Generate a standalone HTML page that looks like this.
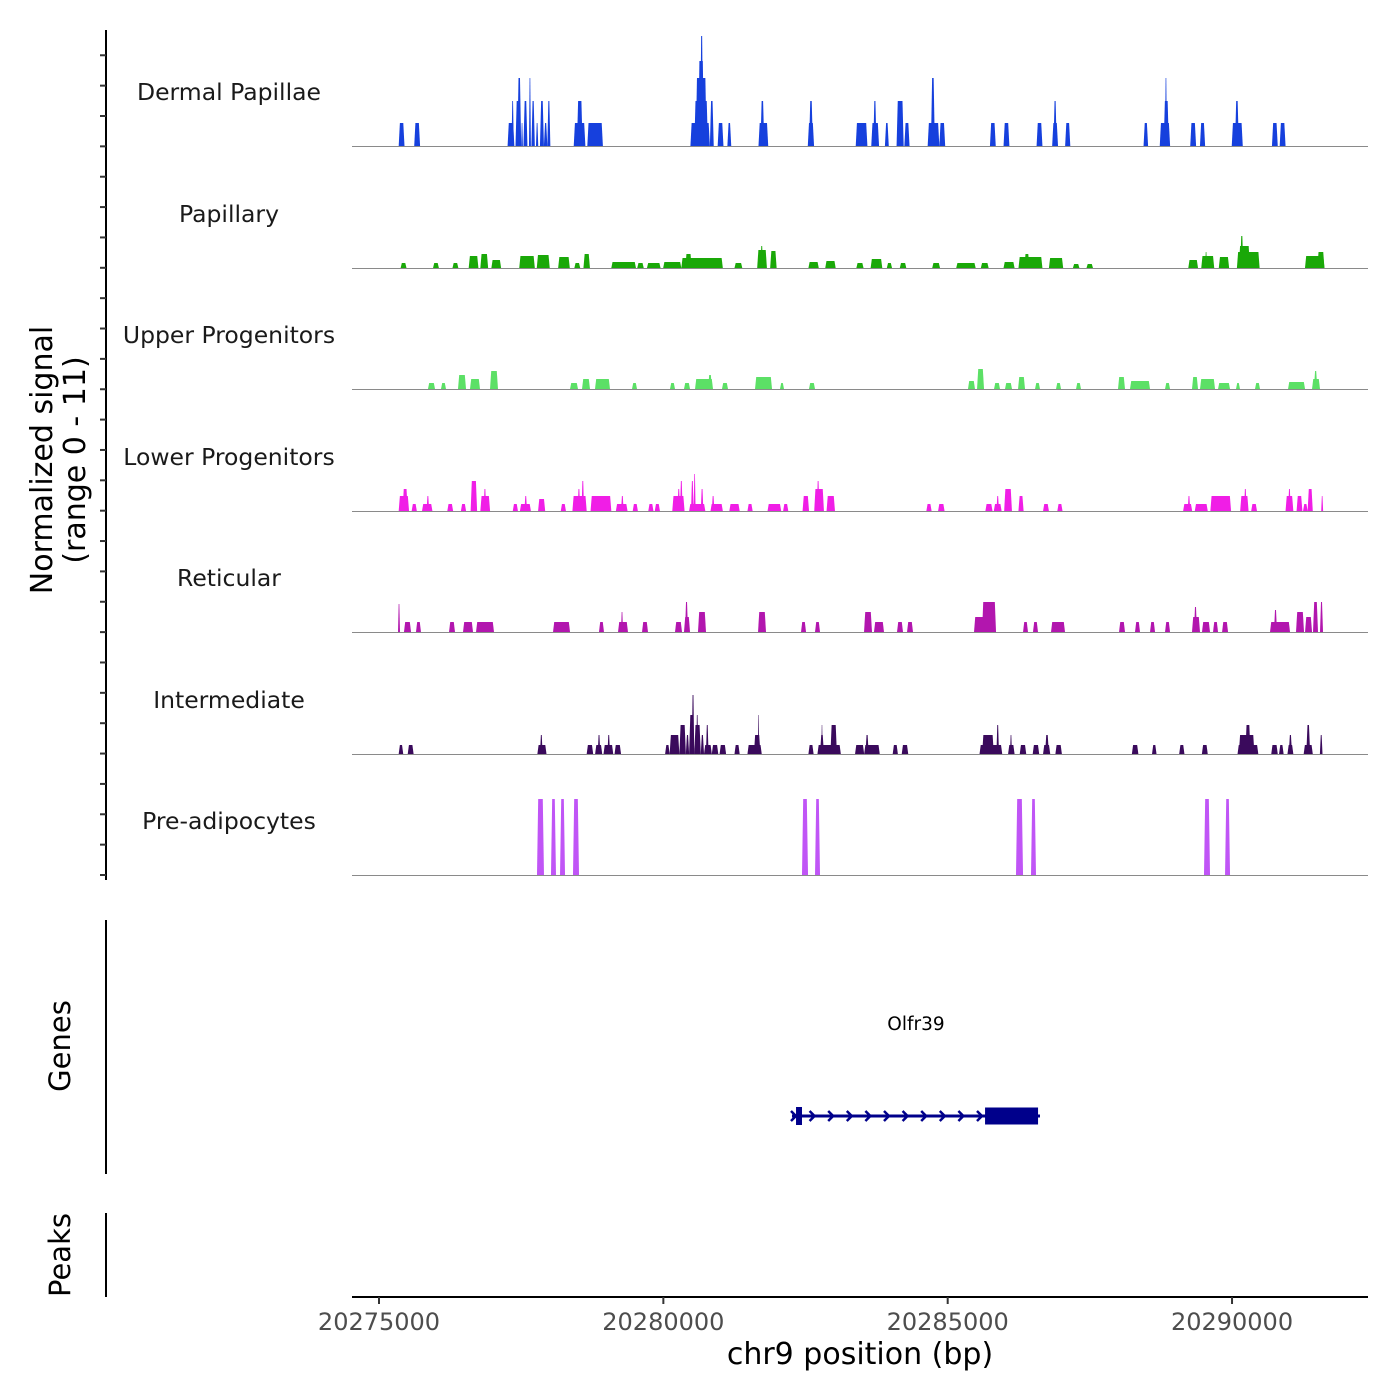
<!DOCTYPE html>
<html><head><meta charset="utf-8"><style>
html,body{margin:0;padding:0;background:#fff;}
svg{display:block;font-family:"DejaVu Sans","Liberation Sans",sans-serif;}
</style></head><body>
<svg id="chart" width="1400" height="1400" viewBox="0 0 1400 1400" xmlns="http://www.w3.org/2000/svg">
<rect width="1400" height="1400" fill="#fff"/>
<g id="tracks"></g>
<g id="yaxis"></g>
<text transform="translate(52,460) rotate(-90)" text-anchor="middle" font-size="30" fill="#000">Normalized signal</text>
<text transform="translate(85,460) rotate(-90)" text-anchor="middle" font-size="30" fill="#000">(range 0 - 11)</text>
<line x1="106" y1="920" x2="106" y2="1174" stroke="#000" stroke-width="2"/>
<text transform="translate(70,1046) rotate(-90)" text-anchor="middle" font-size="29">Genes</text>
<line x1="106" y1="1213" x2="106" y2="1297" stroke="#000" stroke-width="2"/>
<text transform="translate(70,1255) rotate(-90)" text-anchor="middle" font-size="29">Peaks</text>
<g id="genes"></g>
<g id="xaxis"></g>
<text x="860" y="1364" text-anchor="middle" font-size="30">chr9 position (bp)</text>
</svg>
<script>
const NS="http://www.w3.org/2000/svg";
const xDomain=[20274525,20292391];
const xTicks=[20275000,20280000,20285000,20290000];
const trackNames=["Dermal Papillae","Papillary","Upper Progenitors","Lower Progenitors","Reticular","Intermediate","Pre-adipocytes"];
const trackColors=["#1640dd","#1aa808","#5ce066","#f01ee6","#b216ae","#3a0a5c","#c055f6"];
const dermalPapillae=[[20275346,20275448,2.3],[20275619,20275722,2.3],[20277261,20277380,2.3],[20277330,20277370,4.5],[20277400,20277470,4.5],[20277432,20277500,6.8],[20277500,20277530,2.3],[20277540,20277610,4.5],[20277637,20277671,6.8],[20277680,20277740,4.5],[20277760,20277800,2.3],[20277830,20277900,4.5],[20277900,20277960,2.3],[20277960,20278013,4.5],[20278424,20278629,2.3],[20278480,20278580,4.5],[20278663,20278937,2.3],[20280476,20280818,2.3],[20280544,20280784,4.5],[20280570,20280760,6.8],[20280613,20280715,8.5],[20280647,20280700,11],[20280818,20280886,4.5],[20280955,20281057,2.3],[20281126,20281194,2.3],[20281673,20281844,2.3],[20281707,20281775,4.5],[20282540,20282650,2.3],[20282562,20282630,4.5],[20283383,20283588,2.3],[20283656,20283793,2.3],[20283691,20283748,4.5],[20283896,20283964,2.3],[20284101,20284226,4.5],[20284238,20284329,2.3],[20284648,20284853,2.3],[20284705,20284774,6.8],[20284853,20284956,2.3],[20285743,20285845,2.3],[20285982,20286085,2.3],[20286563,20286666,2.3],[20286837,20286940,2.3],[20286860,20286917,4.5],[20287065,20287156,2.3],[20288444,20288524,2.3],[20288729,20288911,2.3],[20288798,20288889,4.5],[20288821,20288855,6.8],[20289265,20289368,2.3],[20289436,20289527,2.3],[20289995,20290189,2.3],[20290052,20290120,4.5],[20290702,20290804,2.3],[20290838,20290941,2.3]];
const papillary=[[20275380,20275483,0.5],[20275950,20276053,0.5],[20276292,20276395,0.5],[20276577,20276748,1.2],[20276782,20276919,1.4],[20276976,20277147,0.8],[20277466,20277740,1.2],[20277774,20278002,1.3],[20278150,20278355,1.1],[20278435,20278538,0.5],[20278595,20278709,1.4],[20279085,20279518,0.6],[20279541,20279655,0.5],[20279712,20279951,0.5],[20279997,20280316,0.6],[20280316,20281046,1.0],[20280385,20280499,1.4],[20281251,20281388,0.5],[20281650,20281821,1.8],[20281707,20281753,2.2],[20281878,20281992,1.7],[20282551,20282733,0.6],[20282847,20283030,0.7],[20283394,20283520,0.5],[20283645,20283850,0.9],[20283930,20284021,0.5],[20284158,20284272,0.5],[20284728,20284865,0.5],[20285150,20285492,0.5],[20285583,20285720,0.5],[20285982,20286176,0.6],[20286245,20286666,1.1],[20286347,20286438,1.4],[20286780,20287031,1.0],[20287202,20287316,0.4],[20287441,20287555,0.4],[20289231,20289402,0.8],[20289459,20289687,1.2],[20289527,20289560,1.6],[20289767,20289949,1.1],[20290086,20290485,1.6],[20290120,20290314,2.2],[20290143,20290200,3.2],[20291283,20291625,1.2],[20291500,20291625,1.6]];
const upperProgenitors=[[20275861,20275985,0.6],[20276090,20276178,0.6],[20276389,20276530,1.4],[20276600,20276776,1.0],[20276952,20277092,1.8],[20278359,20278499,0.6],[20278570,20278710,1.0],[20278798,20279062,1.0],[20279449,20279537,0.6],[20280117,20280205,0.6],[20280363,20280469,0.6],[20280557,20280873,1.0],[20280785,20280856,1.4],[20281031,20281137,0.6],[20281612,20281911,1.2],[20282051,20282122,0.6],[20282561,20282667,0.6],[20285357,20285480,0.8],[20285516,20285639,2.0],[20285815,20285920,0.6],[20286008,20286131,0.6],[20286237,20286360,1.2],[20286536,20286623,0.6],[20286905,20286993,0.6],[20287257,20287344,0.6],[20287995,20288118,1.2],[20288206,20288558,0.8],[20288822,20288910,0.6],[20289296,20289402,1.2],[20289437,20289701,1.0],[20289754,20289965,0.6],[20290070,20290140,0.6],[20290404,20290492,0.6],[20290985,20291284,0.7],[20291407,20291547,1.0],[20291440,20291500,1.8]];
const lowerProgenitors=[[20275346,20275528,1.5],[20275414,20275505,2.2],[20275574,20275665,0.7],[20275756,20275939,0.7],[20275836,20275882,1.5],[20276201,20276303,0.7],[20276440,20276531,0.7],[20276611,20276725,3.0],[20276782,20276953,1.5],[20276839,20276885,2.2],[20277352,20277443,0.7],[20277478,20277671,0.7],[20277557,20277603,1.5],[20277797,20277922,1.2],[20278196,20278287,0.7],[20278401,20278652,1.5],[20278492,20278538,2.2],[20278561,20278606,3.0],[20278720,20279085,1.5],[20279165,20279370,0.7],[20279256,20279302,1.5],[20279461,20279552,0.7],[20279735,20279826,0.7],[20279849,20279940,0.7],[20280157,20280373,1.5],[20280248,20280293,2.2],[20280293,20280339,3.0],[20280453,20280738,0.7],[20280487,20280533,3.0],[20280533,20280567,3.7],[20280658,20280704,2.2],[20280829,20281046,0.7],[20280852,20280898,1.5],[20281160,20281342,0.7],[20281479,20281570,0.7],[20281832,20282072,0.7],[20282106,20282197,0.7],[20282448,20282562,1.5],[20282653,20282824,2.2],[20282699,20282744,3.0],[20282870,20283018,1.5],[20284625,20284717,0.7],[20284831,20284945,0.7],[20285663,20285788,0.7],[20285811,20285948,0.7],[20285857,20285902,1.5],[20285993,20286130,2.2],[20286244,20286335,1.5],[20286677,20286780,0.7],[20286928,20287019,0.7],[20289140,20289299,0.7],[20289220,20289265,1.5],[20289345,20289573,0.7],[20289619,20289983,1.5],[20290143,20290291,1.5],[20290211,20290257,2.2],[20290337,20290439,0.7],[20290941,20291078,1.5],[20290987,20291032,2.2],[20291135,20291237,1.5],[20291249,20291329,0.7],[20291329,20291420,2.2],[20291568,20291602,1.5]];
const reticular=[[20275334,20275369,2.8],[20275439,20275563,1.0],[20275650,20275738,1.0],[20276231,20276336,1.0],[20276477,20276653,1.0],[20276706,20277022,1.0],[20278060,20278359,1.0],[20278868,20278956,1.0],[20279203,20279378,1.0],[20279255,20279291,2.0],[20279625,20279730,1.0],[20280205,20280328,1.0],[20280363,20280469,1.5],[20280381,20280434,3.0],[20280609,20280750,2.0],[20281665,20281805,2.0],[20282421,20282509,1.0],[20282667,20282755,1.0],[20283529,20283669,2.0],[20283704,20283880,1.0],[20284109,20284214,1.0],[20284285,20284390,1.0],[20285463,20285744,1.5],[20285604,20285850,3.0],[20286325,20286412,1.0],[20286500,20286588,1.0],[20286817,20287063,1.0],[20288013,20288118,1.0],[20288294,20288382,1.0],[20288558,20288646,1.0],[20288822,20288910,1.0],[20289296,20289437,1.5],[20289331,20289384,2.5],[20289472,20289613,1.0],[20289666,20289754,1.0],[20289825,20289930,1.0],[20290668,20291020,1.0],[20290738,20290791,2.2],[20291125,20291266,2.0],[20291284,20291407,1.5],[20291424,20291512,3.0],[20291547,20291600,3.0]];
const intermediate=[[20275346,20275426,0.9],[20275505,20275608,0.9],[20277785,20277945,0.9],[20277831,20277877,1.9],[20278652,20278766,0.9],[20278800,20278925,0.9],[20278846,20278891,1.9],[20278948,20279119,0.9],[20279017,20279062,1.9],[20279142,20279256,0.9],[20280031,20280111,0.9],[20280111,20280282,1.9],[20280282,20280396,2.9],[20280396,20280453,1.9],[20280453,20280544,3.9],[20280499,20280544,5.9],[20280544,20280658,2.9],[20280578,20280613,3.9],[20280658,20280715,1.9],[20280715,20280852,0.9],[20280749,20280795,2.9],[20280852,20280966,0.9],[20280989,20281103,0.9],[20281251,20281342,0.9],[20281479,20281730,0.9],[20281593,20281707,1.9],[20281661,20281684,3.9],[20282551,20282642,0.9],[20282710,20283121,0.9],[20282755,20282824,1.9],[20282778,20282801,2.9],[20282938,20283052,2.9],[20283371,20283531,0.9],[20283531,20283805,0.9],[20283554,20283611,1.9],[20284033,20284124,0.9],[20284192,20284306,0.9],[20285560,20285959,0.9],[20285606,20285811,1.9],[20285857,20285902,2.9],[20286062,20286176,0.9],[20286096,20286130,1.9],[20286267,20286381,0.9],[20286495,20286609,0.9],[20286677,20286803,0.9],[20286712,20286780,1.9],[20286894,20287008,0.9],[20288239,20288353,0.9],[20288593,20288672,0.9],[20289071,20289163,0.9],[20289470,20289573,0.9],[20290097,20290462,0.9],[20290120,20290394,1.9],[20290234,20290325,2.9],[20290690,20290804,0.9],[20290827,20290907,0.9],[20290975,20291078,0.9],[20290998,20291055,1.9],[20291260,20291420,0.9],[20291306,20291374,2.9],[20291545,20291591,1.9]];
const preAdipocytes=[[20277778,20277901,7.6],[20278024,20278112,7.6],[20278183,20278271,7.6],[20278411,20278517,7.6],[20282438,20282544,7.6],[20282667,20282755,7.6],[20286201,20286325,7.6],[20286465,20286553,7.6],[20289507,20289613,7.6],[20289877,20289965,7.6]];
const trackData=[dermalPapillae,papillary,upperProgenitors,lowerProgenitors,reticular,intermediate,preAdipocytes];
const geneName="Olfr39";
const geneSpan=[20282262,20286623];
const geneExons=[[20282333,20282438],[20285657,20286589]];

const X0=352,X1=1368;
function xScale(bp){return X0+(bp-xDomain[0])/(xDomain[1]-xDomain[0])*(X1-X0);}
const baselines=[146,268,389,511,632,754,875];
const pxPerUnit=10;
function yScale(v,i){return baselines[i]-v*pxPerUnit;}
function mk(tag,attrs,parent){const e=document.createElementNS(NS,tag);for(const k in attrs)e.setAttribute(k,attrs[k]);parent.appendChild(e);return e;}

const tg=document.getElementById('tracks');
trackData.forEach((data,i)=>{
  const g=mk('g',{},tg);
  
  
  const lab=mk('text',{x:229,y:baselines[i]-46,'text-anchor':'middle','font-size':23.5,fill:'#1a1a1a'},g);
  lab.textContent=trackNames[i];
  
  
  data.forEach(d=>{
    const x1=xScale(d[0]),x2=Math.max(xScale(d[1]),x1+1.2),yb=baselines[i],yt=yScale(d[2],i);
    const ins=Math.min(1.2,(x2-x1)/3);
    const p=mk('polygon',{points:`${x1},${yb} ${x1+ins},${yt} ${x2-ins},${yt} ${x2},${yb}`,fill:trackColors[i]},g);
    
    
  });
  const bl=mk('line',{x1:X0,x2:X1,y1:baselines[i]+0.5,y2:baselines[i]+0.5,stroke:'#8a8a8a','stroke-width':1},g);
  
  
});

const ya=document.getElementById('yaxis');
const ax=mk('line',{x1:106,x2:106,y1:30,y2:880,stroke:'#000','stroke-width':2},ya);


for(let k=0;k<=27;k++){
  const y=875-k*30.36;
  const t=mk('line',{x1:100,x2:106,y1:y,y2:y,stroke:'#333','stroke-width':2},ya);
  
  
}

const gg=document.getElementById('genes');
const gl=mk('text',{x:(xScale(geneSpan[0])+xScale(geneSpan[1]))/2,y:1030,'text-anchor':'middle','font-size':18.5,fill:'#000'},gg);
gl.textContent=geneName;


const gy=1116;
const gline=mk('line',{x1:xScale(geneSpan[0]),x2:xScale(geneSpan[1]),y1:gy,y2:gy,stroke:'#00008b','stroke-width':3},gg);


for(let x=xScale(geneSpan[0])+2;x<xScale(geneExons[1][0]);x+=18.6){
  const c=mk('polyline',{points:`${x-3},${gy-5} ${x+2},${gy} ${x-3},${gy+5}`,fill:'none',stroke:'#00008b','stroke-width':2.5},gg);
  
  
}
geneExons.forEach((e,j)=>{
  const h=j===0?18:17;
  const r=mk('rect',{x:xScale(e[0]),y:gy-h/2,width:xScale(e[1])-xScale(e[0]),height:h,fill:'#00008b'},gg);
  
  
});

const xa=document.getElementById('xaxis');
const xl=mk('line',{x1:X0,x2:X1,y1:1297,y2:1297,stroke:'#000','stroke-width':2},xa);


xTicks.forEach(t=>{
  const x=xScale(t);
  const tk=mk('line',{x1:x,x2:x,y1:1297,y2:1304,stroke:'#333','stroke-width':2},xa);
  
  
  const tl=mk('text',{x:x,y:1330,'text-anchor':'middle','font-size':24,fill:'#4d4d4d'},xa);
  tl.textContent=String(t);
  
  
});
</script>
</body></html>
